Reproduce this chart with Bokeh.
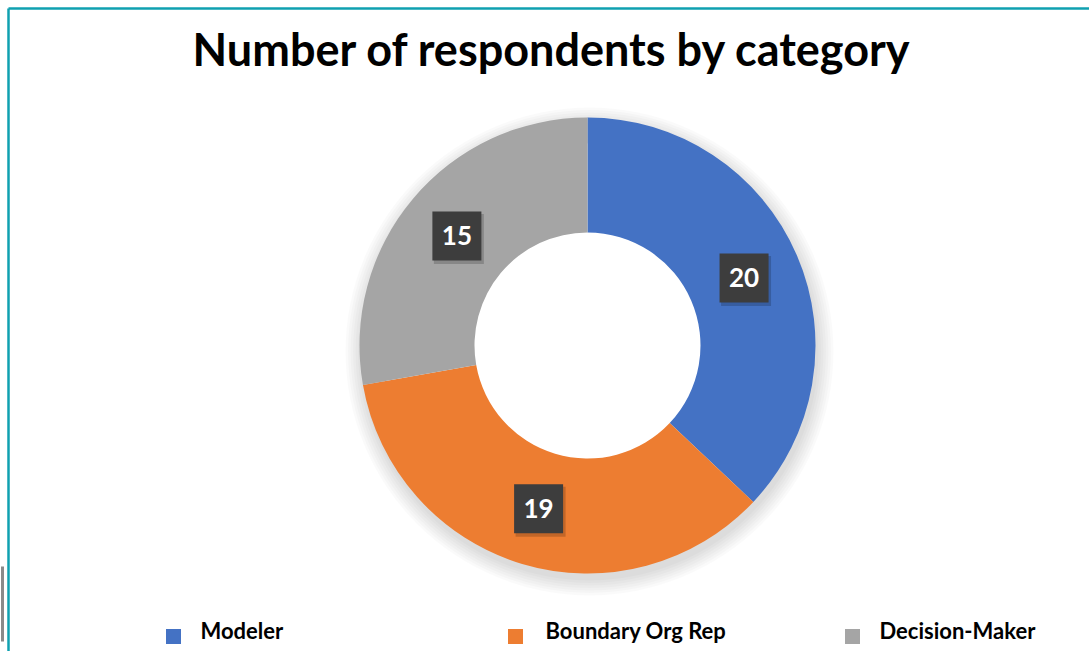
import numpy as np
from bokeh.plotting import figure
from bokeh.models import Range1d
from bokeh.core.properties import value
from bokeh.embed import file_html
from bokeh.resources import INLINE

# ---- data ----
categories = ["Modeler", "Boundary Org Rep", "Decision-Maker"]
counts = [20, 19, 15]
colors = ["#4472C4", "#ED7D31", "#A5A5A5"]
title_text = "Number of respondents by category"

W, H = 1089, 651
p = figure(width=W, height=H, output_backend="svg", toolbar_location=None,
           x_range=Range1d(0, W), y_range=Range1d(0, H), min_border=0,
           background_fill_color="white", border_fill_color="white")
p.axis.visible = False
p.grid.visible = False
p.outline_line_color = None

def Y(y):
    return H - y

# frame lines (teal)
teal = "#0FA0B0"
p.segment(x0=[8, 8], y0=[Y(8), Y(8)], x1=[8, W], y1=[Y(H), Y(8)],
          line_color=teal, line_width=2.5)
# small gray bracket bottom-left
p.segment(x0=[2], y0=[Y(566)], x1=[2], y1=[Y(641)], line_color="#8a8a8a", line_width=3)

# donut geometry
cx, cy = 587, Y(345)
r_out, r_in = 228, 113

# soft shadow (ring only, outside the donut)
for k in range(7):
    p.annulus(x=[cx + 2], y=[cy - 6], inner_radius=r_out - 20,
              outer_radius=r_out + 1 + k * 2.5,
              fill_color="#000000", fill_alpha=0.018, line_color=None)

vals = np.array(counts, dtype=float)
frac = vals / vals.sum()
cum = np.concatenate([[0], np.cumsum(frac)])
start = np.pi / 2 - 2 * np.pi * cum[1:]
end = np.pi / 2 - 2 * np.pi * cum[:-1]
p.annular_wedge(x=[cx] * 3, y=[cy] * 3, inner_radius=r_in, outer_radius=r_out,
                start_angle=list(start), end_angle=list(end),
                fill_color=colors, line_color=None)

# data labels
mid = (start + end) / 2
r_mid = (r_in + r_out) / 2
lx = cx + r_mid * np.cos(mid)
ly = cy + r_mid * np.sin(mid)
p.rect(x=list(lx + 2), y=list(ly - 3), width=50, height=50, fill_color="#000000",
       fill_alpha=0.18, line_color=None)
p.rect(x=list(lx), y=list(ly), width=49, height=49, fill_color="#3d3d3d", line_color=None)
p.text(x=list(lx), y=list(ly), text=[str(c) for c in counts], text_color="white",
       text_font=value("Lato"), text_font_style="bold", text_font_size="26px",
       text_align="center", text_baseline="middle")

# title
p.text(x=[552], y=[Y(48)], text=[title_text], text_color="black",
       text_font=value("Lato"), text_font_style="bold", text_font_size="45px",
       text_align="center", text_baseline="middle")

# legend
leg_marker_x = [173, 515, 852]
leg_text_x = [200, 545, 879]
leg_y = 630
p.rect(x=leg_marker_x, y=[Y(leg_y + 6)] * 3, width=15, height=15,
       fill_color=colors, line_color=None)
p.text(x=leg_text_x, y=[Y(leg_y)] * 3, text=categories, text_color="black",
       text_font=value("Lato"), text_font_style="bold", text_font_size="22px",
       text_align="left", text_baseline="middle")

open("out.html", "w").write(file_html(p, INLINE))
